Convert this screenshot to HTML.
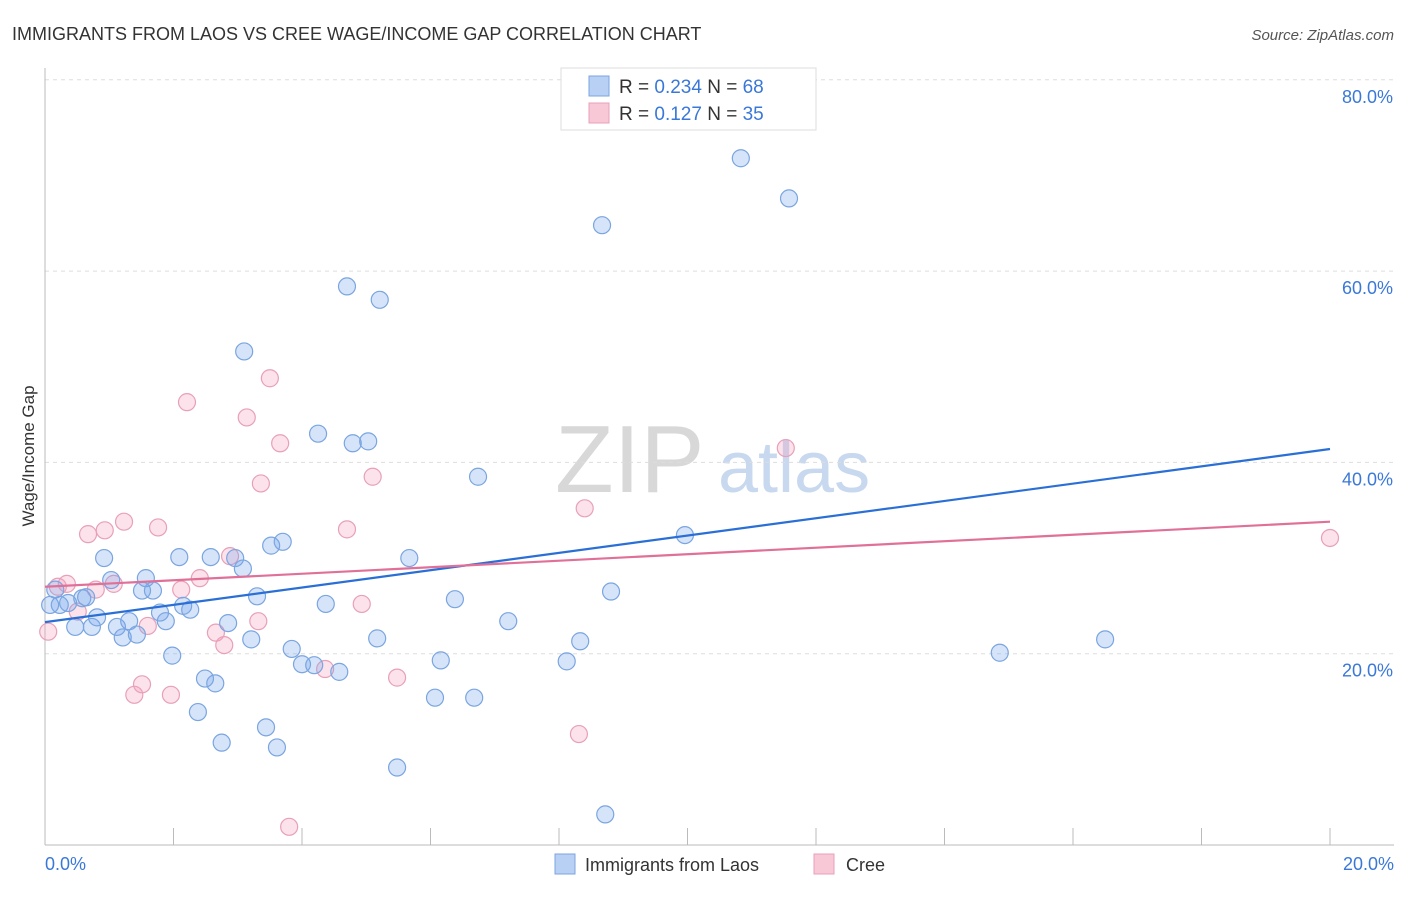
<!DOCTYPE html>
<html><head><meta charset="utf-8"><style>
body{margin:0;background:#fff;font-family:"Liberation Sans",sans-serif;}
svg text{font-family:"Liberation Sans",sans-serif;}
</style></head><body>
<svg id="chart" width="1406" height="892" xmlns="http://www.w3.org/2000/svg">
<text x="12" y="40" font-size="18" fill="#333">IMMIGRANTS FROM LAOS VS CREE WAGE/INCOME GAP CORRELATION CHART</text>
<text x="1394" y="40" font-size="15" fill="#555" text-anchor="end" font-style="italic">Source: ZipAtlas.com</text>
<g>
<text x="555" y="492" font-size="96" fill="#d8d8d8" font-family="Liberation Serif, serif">ZIP</text>
<text x="718" y="492" font-size="72" fill="#c7d8ef">atlas</text>
</g>
<g id="grid"></g>
<g id="axes"></g>
<g id="pink-points"></g>
<g id="blue-points"></g>
<g id="trends"></g>
<text transform="translate(34,456) rotate(-90)" font-size="17" fill="#333" text-anchor="middle">Wage/Income Gap</text>
<g>
<rect x="561" y="68" width="255" height="62" fill="#fff" stroke="#ddd"/>
<rect x="589" y="76" width="20" height="20" fill="#b9d0f5" stroke="#7aa5e0"/>
<rect x="589" y="103" width="20" height="20" fill="#f9c8d7" stroke="#e8a0b8"/>
<text x="619" y="93" font-size="19" fill="#333">R = <tspan fill="#3a78d8">0.234</tspan>   N = <tspan fill="#3a78d8">68</tspan></text>
<text x="619" y="120" font-size="19" fill="#333">R =  <tspan fill="#3a78d8">0.127</tspan>   N = <tspan fill="#3a78d8">35</tspan></text>
</g>
<g>
<rect x="555" y="854" width="20" height="20" fill="#b9d0f5" stroke="#7aa5e0"/>
<text x="585" y="871" font-size="18" fill="#333">Immigrants from Laos</text>
<rect x="814" y="854" width="20" height="20" fill="#f9c8d7" stroke="#e8a0b8"/>
<text x="846" y="871" font-size="18" fill="#333">Cree</text>
</g>
</svg>
<script>
const yTicks=[20,40,60,80];
const yTickLabels=["20.0%","40.0%","60.0%","80.0%"];
const xTicks=[0,2,4,6,8,10,12,14,16,18,20];
const blueX=[0.16,0.23,0.36,0.47,0.58,0.64,0.73,0.81,0.92,1.03,1.12,1.21,1.31,1.43,1.57,1.51,1.68,1.79,1.88,1.98,2.09,2.15,2.26,2.38,2.49,2.58,2.65,2.75,2.85,2.96,3.08,3.10,3.21,3.30,3.44,3.52,3.61,3.70,3.84,4.00,4.19,4.25,4.37,4.58,4.70,4.79,5.03,5.17,5.21,5.48,5.67,6.07,6.16,6.38,6.68,6.74,7.21,8.12,8.33,8.67,8.72,8.81,9.96,10.83,11.58,14.86,16.50,0.08];
const blueY=[26.7,25.1,25.3,22.8,25.8,25.9,22.8,23.8,30.0,27.7,22.8,21.7,23.4,22.0,27.9,26.6,26.6,24.3,23.4,19.8,30.1,25.0,24.6,13.9,17.4,30.1,16.9,10.7,23.2,30.0,28.9,51.6,21.5,26.0,12.3,31.3,10.2,31.7,20.5,18.9,18.8,43.0,25.2,18.1,58.4,42.0,42.2,21.6,57.0,8.1,30.0,15.4,19.3,25.7,15.4,38.5,23.4,19.2,21.3,64.8,3.2,26.5,32.4,71.8,67.6,20.1,21.5,25.1];
const pinkX=[0.05,0.2,0.34,0.51,0.67,0.79,0.93,1.07,1.23,1.39,1.51,1.6,1.76,1.96,2.12,2.21,2.41,2.66,2.79,2.88,3.14,3.32,3.36,3.5,3.66,3.8,4.36,4.7,4.93,5.1,5.48,8.31,8.4,11.53,20.0];
const pinkY=[22.3,27.0,27.3,24.4,32.5,26.7,32.9,27.3,33.8,15.7,16.8,22.9,33.2,15.7,26.7,46.3,27.9,22.2,20.9,30.2,44.7,23.4,37.8,48.8,42.0,1.9,18.4,33.0,25.2,38.5,17.5,11.6,35.2,41.5,32.1];
const blueTrend=[23.3,41.4];
const pinkTrend=[27.0,33.8];
const NS="http://www.w3.org/2000/svg";
function sx(v){return 45+v*64.25;}
function sy(v){return 845-v*9.565;}
function mk(tag,attrs,parent){const e=document.createElementNS(NS,tag);for(const k in attrs)e.setAttribute(k,attrs[k]);parent.appendChild(e);return e;}
const grid=document.getElementById('grid'),axes=document.getElementById('axes');
yTicks.forEach((t,i)=>{
 const l=mk('line',{x1:45,x2:1394,y1:sy(t),y2:sy(t),stroke:'#ddd','stroke-dasharray':'4,4'},grid);
 
 
 const tx=mk('text',{x:1393,y:sy(t)+23,'font-size':18,fill:'#3a78d8','text-anchor':'end'},axes);
 tx.textContent=yTickLabels[i];
 
 
});
const axl=mk('line',{x1:45,x2:1394,y1:845,y2:845,stroke:'#bbb'},axes);


const ayl=mk('line',{x1:45,x2:45,y1:68,y2:845,stroke:'#bbb'},axes);


xTicks.forEach(t=>{
 const l=mk('line',{x1:sx(t),x2:sx(t),y1:828,y2:845,stroke:'#bbb'},axes);
 
 
});
const x0=mk('text',{x:45,y:870,'font-size':18,fill:'#3a78d8'},axes);x0.textContent='0.0%';


const x1=mk('text',{x:1394,y:870,'font-size':18,fill:'#3a78d8','text-anchor':'end'},axes);x1.textContent='20.0%';


function pts(xs,ys,g,fill,stroke,name){
 xs.forEach((x,i)=>{
  const c=mk('circle',{cx:sx(x),cy:sy(ys[i]),r:8.5,fill:fill,stroke:stroke,'stroke-width':1.2},g);
  
  
 });
}
pts(pinkX,pinkY,document.getElementById('pink-points'),'rgba(244,160,190,0.3)','#e8a0b8','cree-point');
pts(blueX,blueY,document.getElementById('blue-points'),'rgba(120,165,235,0.3)','#7aa5e0','laos-point');
const tr=document.getElementById('trends');
const bl=mk('line',{x1:sx(0),y1:sy(blueTrend[0]),x2:sx(20),y2:sy(blueTrend[1]),stroke:'#2a6fd6','stroke-width':2.2},tr);


const pl=mk('line',{x1:sx(0),y1:sy(pinkTrend[0]),x2:sx(20),y2:sy(pinkTrend[1]),stroke:'#e07098','stroke-width':2.2},tr);


</script>
</body></html>
